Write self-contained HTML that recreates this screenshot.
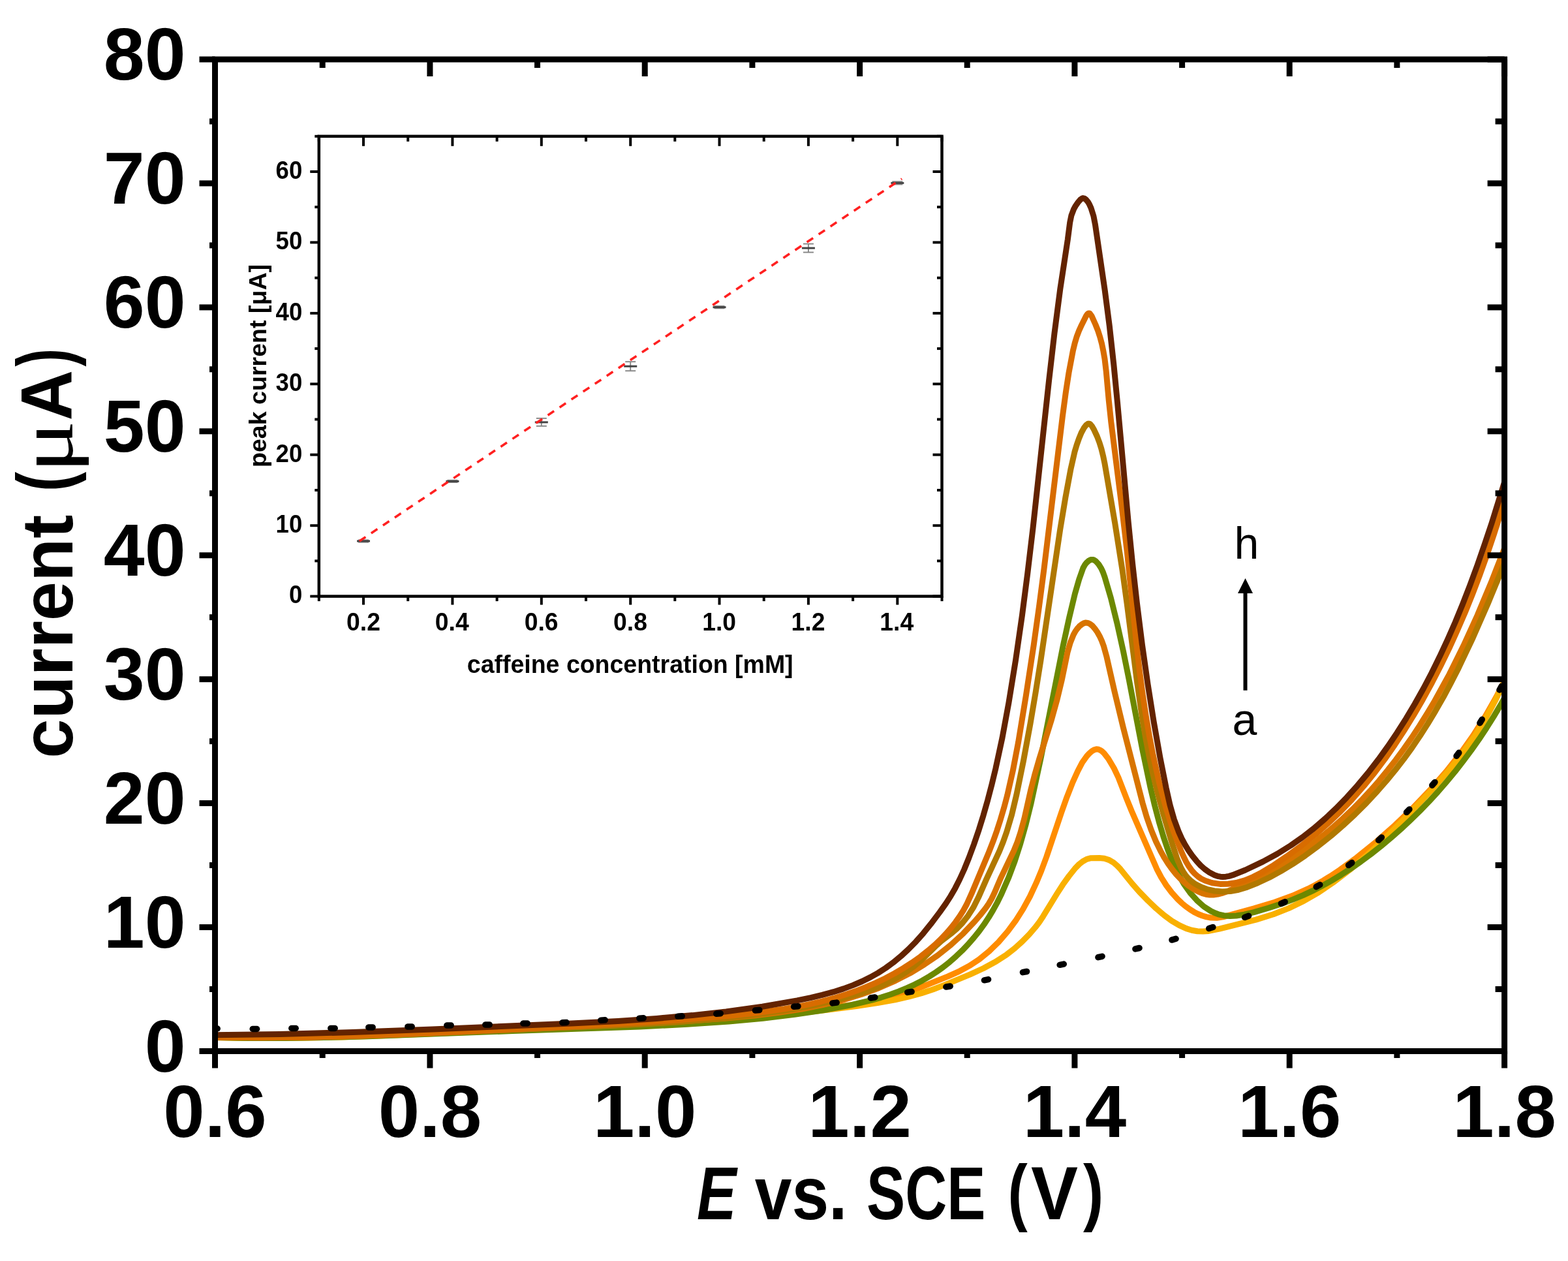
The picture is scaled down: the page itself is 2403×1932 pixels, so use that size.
<!DOCTYPE html><html><head><meta charset="utf-8"><title>DPV caffeine</title><style>
html,body{margin:0;padding:0;background:#fff;width:2403px;height:1932px;overflow:hidden}
svg{display:block}
text{font-family:"Liberation Sans",Arial,sans-serif;font-weight:bold;fill:#000}
</style></head><body>
<svg xmlns="http://www.w3.org/2000/svg" width="2403" height="1932" viewBox="0 0 2403 1932">
<rect width="2403" height="1932" fill="#fff"/>
<defs><clipPath id="pc"><rect x="329.5" y="91.0" width="1976.1" height="1519.5"/></clipPath></defs>
<g clip-path="url(#pc)" fill="none" stroke-linejoin="round" stroke-linecap="butt" stroke-width="9">
<path d="M329.0,1589.0 L374.0,1590.0 L420.9,1590.2 L470.9,1589.6 L525.9,1588.3 L602.9,1585.5 L787.9,1577.5 L960.7,1571.6 L1040.6,1567.6 L1087.4,1564.3 L1132.3,1560.3 L1182.0,1554.9 L1241.5,1547.6 L1311.6,1538.6 L1335.1,1535.1 L1358.6,1530.4 L1380.0,1524.4 L1398.4,1517.7 L1453.0,1495.9 L1470.8,1487.8 L1485.3,1479.9 L1500.8,1469.7 L1516.1,1457.2 L1530.4,1443.2 L1544.3,1427.1 L1556.4,1410.8 L1567.8,1392.9 L1578.4,1373.5 L1588.1,1352.7 L1595.8,1334.3 L1603.8,1312.8 L1626.7,1244.6 L1635.1,1221.1 L1643.8,1198.8 L1651.6,1181.6 L1658.5,1168.4 L1665.6,1158.4 L1669.3,1154.4 L1673.3,1150.9 L1676.7,1148.8 L1680.2,1147.8 L1682.8,1147.9 L1686.2,1149.3 L1688.8,1151.0 L1692.0,1154.0 L1698.6,1162.5 L1707.2,1177.0 L1713.9,1191.2 L1726.2,1222.9 L1734.3,1242.8 L1772.8,1331.3 L1779.7,1344.4 L1787.4,1356.5 L1795.7,1367.5 L1804.9,1377.7 L1811.0,1383.6 L1817.4,1388.9 L1824.1,1393.7 L1830.1,1397.4 L1836.3,1400.5 L1842.6,1403.0 L1849.0,1404.9 L1855.5,1406.0 L1864.9,1406.2 L1874.4,1404.8 L1921.8,1391.9 L1953.6,1382.2 L1981.0,1372.3 L2004.8,1361.7 L2016.3,1355.7 L2028.4,1348.9 L2041.1,1341.0 L2053.5,1332.7 L2079.3,1313.8 L2108.8,1289.9 L2138.1,1264.1 L2165.5,1237.7 L2191.8,1210.2 L2216.2,1182.2 L2237.9,1154.8 L2257.5,1127.2 L2276.1,1097.7 L2293.4,1067.3 L2309.9,1034.8" stroke="#ff8c00"/>
<path d="M329.0,1589.5 L374.0,1590.4 L421.0,1590.6 L471.0,1590.1 L525.0,1588.9 L604.0,1586.1 L786.9,1578.5 L944.7,1573.2 L1014.5,1570.0 L1061.4,1567.1 L1109.2,1563.5 L1157.0,1559.3 L1204.8,1554.5 L1258.6,1548.3 L1312.3,1541.5 L1345.0,1536.6 L1371.6,1531.8 L1393.1,1526.9 L1412.4,1521.6 L1429.6,1516.0 L1449.3,1508.4 L1486.9,1492.8 L1507.3,1483.5 L1526.2,1473.3 L1542.9,1462.4 L1555.0,1453.0 L1566.5,1442.7 L1577.3,1431.7 L1586.5,1420.9 L1592.6,1412.9 L1598.6,1403.9 L1619.7,1369.5 L1628.9,1355.2 L1638.4,1342.0 L1647.4,1330.7 L1653.9,1324.0 L1659.4,1319.7 L1665.4,1316.4 L1671.9,1314.7 L1684.7,1314.5 L1692.5,1315.3 L1699.8,1317.6 L1706.6,1321.6 L1712.1,1326.3 L1717.2,1331.7 L1735.0,1353.8 L1746.2,1366.5 L1759.4,1380.0 L1771.9,1391.9 L1783.9,1402.1 L1795.7,1410.8 L1807.2,1417.6 L1818.1,1422.6 L1826.5,1425.2 L1835.0,1426.7 L1843.6,1427.1 L1852.3,1426.4 L1868.8,1423.2 L1924.7,1409.1 L1951.6,1400.7 L1974.8,1391.6 L1998.0,1380.4 L2021.1,1367.0 L2045.0,1350.8 L2068.8,1332.5 L2094.0,1311.0 L2120.5,1286.2 L2158.1,1248.4 L2193.1,1211.5 L2218.6,1182.6 L2240.9,1154.7 L2260.0,1127.9 L2276.6,1101.2 L2292.1,1072.4 L2309.4,1036.1" stroke="#f9b000"/>
<path d="M328.9,1589.5 L381.0,1590.4 L437.1,1590.4 L497.1,1589.5 L564.2,1587.8 L786.0,1579.5 L980.6,1572.9 L1053.4,1569.3 L1117.1,1565.0 L1168.9,1560.2 L1217.7,1554.4 L1263.5,1547.5 L1304.2,1539.9 L1335.6,1532.4 L1350.0,1528.3 L1364.3,1523.7 L1377.4,1518.9 L1390.2,1513.6 L1401.9,1508.3 L1413.3,1502.4 L1424.5,1495.9 L1434.5,1489.5 L1445.1,1482.0 L1455.3,1473.9 L1465.1,1465.3 L1474.6,1456.3 L1483.6,1446.9 L1492.2,1437.0 L1500.4,1426.9 L1508.0,1416.4 L1515.2,1405.6 L1521.8,1394.6 L1528.0,1383.4 L1534.1,1371.1 L1546.0,1343.9 L1555.1,1319.6 L1563.7,1292.9 L1571.9,1263.8 L1580.2,1230.4 L1595.5,1159.5 L1629.0,990.4 L1638.5,946.8 L1647.3,910.0 L1653.7,887.7 L1659.9,870.3 L1662.5,865.6 L1665.2,862.1 L1668.3,859.3 L1671.7,857.5 L1675.2,857.4 L1676.8,858.1 L1679.3,859.7 L1683.7,864.5 L1687.7,870.9 L1690.3,876.5 L1693.0,884.1 L1702.5,916.5 L1712.0,955.1 L1721.5,998.0 L1730.0,1040.1 L1750.8,1148.4 L1763.2,1207.2 L1769.7,1234.4 L1776.3,1259.4 L1783.1,1282.2 L1790.4,1303.7 L1797.9,1323.0 L1805.6,1339.3 L1814.3,1354.3 L1824.0,1367.9 L1834.4,1379.6 L1845.0,1389.0 L1855.7,1395.9 L1861.8,1398.8 L1867.1,1400.8 L1875.4,1402.7 L1884.9,1403.5 L1894.7,1403.0 L1906.7,1401.1 L1921.7,1397.6 L1944.4,1391.0 L1963.5,1384.7 L1981.4,1378.1 L1997.0,1371.6 L2011.4,1364.9 L2025.6,1357.6 L2040.4,1349.4 L2055.7,1340.1 L2070.8,1330.3 L2085.6,1320.0 L2100.9,1308.6 L2116.6,1296.2 L2132.0,1283.4 L2147.0,1270.2 L2161.6,1256.5 L2175.9,1242.5 L2189.8,1228.2 L2203.4,1213.4 L2217.1,1197.6 L2229.9,1182.2 L2242.8,1165.6 L2254.7,1149.6 L2266.8,1132.4 L2277.9,1115.7 L2289.1,1097.9 L2299.8,1079.9 L2309.8,1061.9" stroke="#6c8800"/>
<path d="M328.8,1589.0 L390.2,1589.6 L455.4,1589.3 L525.4,1587.9 L604.2,1585.3 L953.1,1570.3 L1037.1,1565.6 L1110.5,1560.2 L1155.7,1556.0 L1193.7,1551.4 L1228.4,1546.0 L1260.7,1539.7 L1291.6,1532.1 L1319.9,1523.5 L1346.8,1513.7 L1372.1,1502.6 L1395.0,1490.8 L1416.3,1477.9 L1437.0,1463.7 L1456.8,1448.0 L1476.3,1430.2 L1493.9,1411.7 L1502.5,1401.6 L1510.1,1392.0 L1515.3,1384.6 L1519.7,1377.0 L1523.8,1368.4 L1534.0,1344.6 L1553.8,1303.3 L1559.1,1290.1 L1563.8,1276.0 L1569.8,1254.2 L1580.0,1209.1 L1585.5,1187.8 L1592.8,1162.6 L1611.0,1104.2 L1619.7,1073.1 L1627.4,1041.2 L1635.9,999.9 L1640.2,984.7 L1645.2,972.4 L1647.7,967.8 L1650.7,963.5 L1654.1,959.6 L1657.4,956.9 L1660.8,954.9 L1663.5,954.1 L1667.1,954.4 L1670.6,956.0 L1673.9,958.6 L1677.7,962.9 L1681.7,968.5 L1685.2,974.7 L1688.4,981.6 L1691.4,989.7 L1695.8,1005.6 L1708.4,1061.0 L1721.4,1114.9 L1751.0,1230.2 L1757.4,1251.9 L1764.2,1271.5 L1771.4,1289.0 L1778.9,1304.4 L1784.4,1314.2 L1789.9,1322.9 L1795.8,1331.2 L1802.2,1339.1 L1808.4,1345.8 L1815.1,1352.0 L1822.2,1357.6 L1828.9,1362.0 L1836.1,1365.9 L1842.6,1368.6 L1848.2,1370.2 L1853.9,1371.0 L1859.6,1371.0 L1866.3,1370.1 L1872.9,1368.4 L1880.5,1365.8 L1890.8,1361.4 L1922.3,1346.9 L1936.7,1339.7 L1951.7,1331.6 L1967.3,1322.6 L1983.3,1312.5 L1998.1,1302.4 L2013.4,1291.3 L2028.3,1279.6 L2043.5,1266.9 L2057.6,1254.3 L2072.1,1240.6 L2086.1,1226.5 L2100.3,1211.1 L2113.5,1196.1 L2126.8,1179.9 L2139.1,1164.2 L2151.6,1147.2 L2163.7,1129.9 L2175.8,1111.5 L2187.5,1092.7 L2198.8,1073.7 L2221.1,1033.1 L2242.6,989.8 L2264.3,942.3 L2286.2,889.9 L2309.5,830.4" stroke="#d87400"/>
<path d="M328.9,1589.0 L385.1,1589.8 L445.2,1589.5 L509.2,1588.3 L581.1,1586.1 L962.3,1570.3 L1037.3,1566.0 L1103.4,1560.6 L1155.5,1554.9 L1202.2,1548.3 L1245.5,1540.5 L1285.0,1531.5 L1319.0,1521.9 L1333.0,1517.2 L1345.8,1512.3 L1357.6,1507.1 L1369.3,1501.1 L1380.0,1494.9 L1390.5,1488.0 L1401.5,1479.8 L1412.6,1470.5 L1435.5,1448.1 L1442.7,1441.6 L1459.7,1428.6 L1465.9,1423.3 L1475.0,1414.0 L1483.5,1403.2 L1491.9,1390.0 L1499.4,1375.1 L1511.8,1346.9 L1531.6,1304.1 L1537.3,1290.0 L1542.7,1274.8 L1550.6,1248.1 L1557.9,1217.4 L1568.4,1166.0 L1578.9,1109.1 L1587.0,1061.6 L1594.9,1012.0 L1624.6,811.9 L1632.9,762.0 L1641.0,718.4 L1646.9,692.4 L1650.1,681.7 L1653.5,671.9 L1657.2,663.0 L1661.1,655.8 L1664.4,651.4 L1667.2,649.3 L1668.6,649.1 L1670.0,649.4 L1671.3,650.4 L1673.2,652.6 L1676.7,658.6 L1681.3,668.5 L1684.9,678.0 L1687.9,687.6 L1690.5,698.2 L1693.1,710.7 L1708.7,801.6 L1720.1,873.8 L1727.2,925.4 L1742.4,1043.7 L1750.6,1100.0 L1755.7,1130.5 L1761.1,1158.9 L1767.0,1186.1 L1773.1,1211.2 L1783.3,1248.8 L1796.7,1293.4 L1804.0,1315.9 L1810.0,1329.8 L1813.4,1335.8 L1817.3,1341.5 L1821.2,1345.9 L1825.6,1350.0 L1830.5,1353.6 L1835.9,1356.7 L1842.6,1359.8 L1849.4,1362.3 L1861.1,1365.0 L1872.8,1366.1 L1885.5,1365.5 L1898.1,1363.2 L1911.5,1359.2 L1927.4,1352.8 L1945.6,1344.2 L1963.2,1334.6 L1981.2,1323.7 L2000.2,1310.9 L2020.3,1296.1 L2039.9,1280.5 L2058.0,1264.9 L2076.4,1247.9 L2094.1,1230.2 L2111.1,1211.9 L2124.9,1196.1 L2138.2,1179.9 L2151.1,1163.3 L2164.0,1145.5 L2176.3,1127.3 L2188.1,1108.8 L2200.0,1089.1 L2211.9,1068.3 L2223.2,1047.1 L2234.2,1025.7 L2257.0,977.7 L2280.7,923.6 L2311.9,848.1" stroke="#b07800"/>
<path d="M328.9,1589.0 L401.2,1589.7 L479.3,1588.9 L563.2,1586.6 L662.0,1582.7 L888.3,1571.9 L984.1,1566.6 L1034.1,1563.3 L1081.2,1559.6 L1124.4,1555.7 L1158.4,1552.0 L1202.2,1545.8 L1221.9,1542.4 L1241.4,1538.4 L1259.8,1534.1 L1278.1,1529.2 L1295.1,1524.0 L1311.0,1518.6 L1326.7,1512.5 L1342.2,1505.9 L1356.6,1499.0 L1370.7,1491.5 L1384.5,1483.4 L1398.1,1474.6 L1410.5,1465.8 L1422.4,1456.4 L1432.3,1447.9 L1441.1,1439.6 L1449.4,1430.9 L1457.2,1422.0 L1464.5,1412.7 L1470.7,1403.9 L1476.4,1394.8 L1481.5,1385.5 L1488.7,1369.7 L1514.4,1308.3 L1521.9,1289.2 L1527.7,1272.9 L1533.3,1255.6 L1538.7,1237.3 L1543.6,1218.9 L1552.2,1181.1 L1560.6,1137.2 L1572.4,1065.6 L1584.3,987.7 L1592.5,929.2 L1600.0,871.6 L1628.5,637.0 L1633.3,601.4 L1638.0,571.0 L1644.4,537.1 L1647.2,525.6 L1650.0,516.2 L1653.5,506.9 L1657.7,497.7 L1664.4,484.3 L1666.1,481.7 L1667.9,480.1 L1669.1,479.9 L1670.2,480.4 L1673.0,484.2 L1678.8,497.0 L1682.6,506.5 L1685.7,516.1 L1688.6,526.8 L1691.0,538.4 L1693.0,550.0 L1695.2,568.6 L1699.2,612.9 L1702.9,647.6 L1719.0,775.0 L1727.4,846.5 L1741.3,982.5 L1746.2,1026.3 L1750.8,1061.1 L1755.9,1094.9 L1761.4,1127.5 L1767.3,1157.8 L1776.9,1200.4 L1786.9,1237.7 L1797.5,1271.0 L1809.6,1302.7 L1813.8,1312.3 L1818.0,1320.7 L1822.2,1327.7 L1826.3,1333.4 L1830.9,1338.5 L1836.0,1343.0 L1840.8,1346.3 L1847.0,1349.3 L1857.7,1352.7 L1869.8,1354.4 L1881.9,1354.3 L1894.4,1352.5 L1907.5,1348.8 L1920.3,1343.6 L1933.7,1336.7 L1949.5,1327.2 L1972.3,1311.8 L1995.1,1295.1 L2016.1,1278.3 L2035.5,1261.3 L2054.2,1243.5 L2072.0,1224.8 L2089.8,1204.6 L2107.4,1182.8 L2122.4,1162.8 L2137.4,1141.4 L2152.2,1118.7 L2166.5,1095.7 L2180.6,1071.4 L2194.5,1046.0 L2207.8,1020.2 L2220.9,993.3 L2233.3,966.0 L2245.2,938.5 L2256.8,909.8 L2267.8,880.8 L2279.0,849.7 L2289.5,818.5 L2299.9,786.0 L2310.1,752.0" stroke="#d86c00"/>
<path d="M329.1,1585.8 L428.9,1584.5 L540.9,1581.5 L662.9,1577.0 L875.8,1568.0 L946.6,1564.4 L1006.4,1560.4 L1061.1,1555.6 L1112.7,1549.9 L1168.3,1542.2 L1221.7,1532.9 L1242.4,1528.6 L1260.0,1524.4 L1277.4,1519.7 L1292.6,1514.9 L1307.5,1509.4 L1321.2,1503.5 L1333.6,1497.4 L1345.7,1490.6 L1357.5,1483.0 L1368.9,1474.7 L1380.6,1465.1 L1391.7,1454.9 L1403.6,1442.8 L1414.8,1430.2 L1426.5,1415.7 L1440.3,1397.4 L1449.7,1384.2 L1456.8,1373.1 L1463.8,1360.9 L1470.6,1347.5 L1477.7,1332.0 L1484.8,1314.5 L1492.5,1293.8 L1500.2,1271.2 L1507.0,1249.3 L1513.6,1226.2 L1519.9,1202.1 L1525.8,1177.8 L1536.1,1130.0 L1545.9,1076.8 L1556.5,1011.6 L1566.5,942.3 L1574.7,878.8 L1583.0,809.3 L1607.6,582.8 L1616.0,510.3 L1624.8,442.6 L1636.3,367.1 L1639.7,340.8 L1641.9,330.1 L1645.6,320.4 L1648.3,315.5 L1652.2,309.9 L1655.8,305.7 L1658.1,304.1 L1659.7,303.6 L1662.1,304.1 L1664.4,305.8 L1667.3,309.3 L1669.6,313.3 L1672.0,318.6 L1675.9,331.0 L1678.5,344.4 L1693.3,445.5 L1700.3,499.4 L1706.9,559.2 L1712.5,616.9 L1729.1,798.9 L1735.6,863.6 L1742.3,923.2 L1750.4,987.7 L1759.0,1048.1 L1768.1,1105.5 L1777.9,1160.7 L1787.1,1206.9 L1793.0,1233.2 L1799.3,1255.2 L1806.5,1274.7 L1811.0,1284.7 L1816.2,1294.3 L1821.4,1302.9 L1827.2,1311.2 L1833.7,1319.2 L1840.1,1326.1 L1846.2,1331.5 L1852.7,1336.2 L1861.3,1340.7 L1865.8,1342.3 L1870.3,1343.2 L1874.0,1343.5 L1878.7,1343.2 L1883.5,1342.3 L1889.2,1340.7 L1908.5,1333.0 L1935.5,1320.1 L1957.4,1308.2 L1978.3,1295.2 L1996.1,1282.7 L2013.3,1269.4 L2030.6,1254.5 L2047.3,1238.8 L2064.1,1221.6 L2080.2,1203.7 L2096.3,1184.5 L2112.3,1163.8 L2127.0,1143.5 L2141.0,1122.7 L2154.9,1100.8 L2168.2,1078.5 L2181.4,1055.0 L2194.0,1031.1 L2206.3,1006.1 L2218.5,979.8 L2230.2,953.2 L2241.6,925.5 L2252.8,896.6 L2263.9,866.5 L2275.1,834.3 L2286.2,801.1 L2309.9,725.0" stroke="#632300"/>
<g stroke="#000" stroke-width="9.5" stroke-linecap="round">
<line x1="326.8" y1="1576.0" x2="333.2" y2="1576.0"/>
<line x1="387.2" y1="1576.5" x2="393.6" y2="1576.5"/>
<line x1="446.8" y1="1575.5" x2="453.2" y2="1575.5"/>
<line x1="506.8" y1="1575.5" x2="513.2" y2="1575.5"/>
<line x1="564.8" y1="1574.1" x2="571.2" y2="1573.9"/>
<line x1="624.8" y1="1573.1" x2="631.2" y2="1572.9"/>
<line x1="684.8" y1="1571.1" x2="691.2" y2="1570.9"/>
<line x1="743.8" y1="1570.1" x2="750.2" y2="1569.9"/>
<line x1="801.8" y1="1568.1" x2="808.2" y2="1567.9"/>
<line x1="861.8" y1="1566.8" x2="868.2" y2="1566.6"/>
<line x1="920.8" y1="1563.2" x2="927.2" y2="1562.8"/>
<line x1="979.8" y1="1560.2" x2="986.2" y2="1559.8"/>
<line x1="1038.8" y1="1557.2" x2="1045.2" y2="1556.8"/>
<line x1="1097.8" y1="1553.3" x2="1104.2" y2="1552.7"/>
<line x1="1157.4" y1="1548.0" x2="1163.8" y2="1547.4"/>
<line x1="1216.6" y1="1542.3" x2="1223.0" y2="1541.7"/>
<line x1="1275.8" y1="1536.9" x2="1282.2" y2="1536.1"/>
<line x1="1334.4" y1="1529.0" x2="1340.8" y2="1528.0"/>
<line x1="1390.7" y1="1520.4" x2="1397.1" y2="1519.4"/>
<line x1="1449.8" y1="1512.0" x2="1456.2" y2="1511.0"/>
<line x1="1508.4" y1="1501.8" x2="1514.6" y2="1500.6"/>
<line x1="1567.4" y1="1489.7" x2="1573.6" y2="1488.5"/>
<line x1="1624.1" y1="1478.3" x2="1630.3" y2="1477.1"/>
<line x1="1682.9" y1="1466.7" x2="1689.1" y2="1465.3"/>
<line x1="1739.9" y1="1453.9" x2="1746.1" y2="1452.5"/>
<line x1="1795.9" y1="1440.1" x2="1802.1" y2="1438.3"/>
<line x1="1852.7" y1="1422.6" x2="1858.9" y2="1420.6"/>
<line x1="1907.6" y1="1405.5" x2="1913.6" y2="1403.3"/>
<line x1="1963.4" y1="1384.4" x2="1969.2" y2="1381.8"/>
<line x1="2017.2" y1="1358.7" x2="2022.8" y2="1355.5"/>
<line x1="2066.6" y1="1325.6" x2="2071.8" y2="1321.8"/>
<line x1="2112.6" y1="1287.4" x2="2117.4" y2="1283.0"/>
<line x1="2155.5" y1="1244.6" x2="2159.9" y2="1240.0"/>
<line x1="2194.8" y1="1203.2" x2="2199.0" y2="1198.4"/>
<line x1="2232.0" y1="1158.3" x2="2235.8" y2="1153.3"/>
<line x1="2267.9" y1="1107.7" x2="2271.3" y2="1102.3"/>
<line x1="2298.0" y1="1057.0" x2="2301.2" y2="1051.4"/>
</g>
</g>
<g stroke="#000" fill="none" stroke-width="9" stroke-linecap="square">
<rect x="329.5" y="91.0" width="1976.1" height="1519.5"/>
</g>
<g stroke="#000" stroke-width="9">
<line x1="329.5" y1="1610.5" x2="329.5" y2="1636.5"/>
<line x1="329.5" y1="91.0" x2="329.5" y2="117.0"/>
<line x1="494.2" y1="1610.5" x2="494.2" y2="1621.0"/>
<line x1="494.2" y1="91.0" x2="494.2" y2="104.0"/>
<line x1="658.9" y1="1610.5" x2="658.9" y2="1636.5"/>
<line x1="658.9" y1="91.0" x2="658.9" y2="117.0"/>
<line x1="823.5" y1="1610.5" x2="823.5" y2="1621.0"/>
<line x1="823.5" y1="91.0" x2="823.5" y2="104.0"/>
<line x1="988.2" y1="1610.5" x2="988.2" y2="1636.5"/>
<line x1="988.2" y1="91.0" x2="988.2" y2="117.0"/>
<line x1="1152.9" y1="1610.5" x2="1152.9" y2="1621.0"/>
<line x1="1152.9" y1="91.0" x2="1152.9" y2="104.0"/>
<line x1="1317.6" y1="1610.5" x2="1317.6" y2="1636.5"/>
<line x1="1317.6" y1="91.0" x2="1317.6" y2="117.0"/>
<line x1="1482.2" y1="1610.5" x2="1482.2" y2="1621.0"/>
<line x1="1482.2" y1="91.0" x2="1482.2" y2="104.0"/>
<line x1="1646.9" y1="1610.5" x2="1646.9" y2="1636.5"/>
<line x1="1646.9" y1="91.0" x2="1646.9" y2="117.0"/>
<line x1="1811.6" y1="1610.5" x2="1811.6" y2="1621.0"/>
<line x1="1811.6" y1="91.0" x2="1811.6" y2="104.0"/>
<line x1="1976.2" y1="1610.5" x2="1976.2" y2="1636.5"/>
<line x1="1976.2" y1="91.0" x2="1976.2" y2="117.0"/>
<line x1="2140.9" y1="1610.5" x2="2140.9" y2="1621.0"/>
<line x1="2140.9" y1="91.0" x2="2140.9" y2="104.0"/>
<line x1="2305.6" y1="1610.5" x2="2305.6" y2="1636.5"/>
<line x1="2305.6" y1="91.0" x2="2305.6" y2="117.0"/>
<line x1="305.5" y1="1610.5" x2="329.5" y2="1610.5"/>
<line x1="2279.6" y1="1610.5" x2="2305.6" y2="1610.5"/>
<line x1="321.0" y1="1515.5" x2="329.5" y2="1515.5"/>
<line x1="2291.6" y1="1515.5" x2="2305.6" y2="1515.5"/>
<line x1="305.5" y1="1420.6" x2="329.5" y2="1420.6"/>
<line x1="2279.6" y1="1420.6" x2="2305.6" y2="1420.6"/>
<line x1="321.0" y1="1325.6" x2="329.5" y2="1325.6"/>
<line x1="2291.6" y1="1325.6" x2="2305.6" y2="1325.6"/>
<line x1="305.5" y1="1230.6" x2="329.5" y2="1230.6"/>
<line x1="2279.6" y1="1230.6" x2="2305.6" y2="1230.6"/>
<line x1="321.0" y1="1135.7" x2="329.5" y2="1135.7"/>
<line x1="2291.6" y1="1135.7" x2="2305.6" y2="1135.7"/>
<line x1="305.5" y1="1040.7" x2="329.5" y2="1040.7"/>
<line x1="2279.6" y1="1040.7" x2="2305.6" y2="1040.7"/>
<line x1="321.0" y1="945.7" x2="329.5" y2="945.7"/>
<line x1="2291.6" y1="945.7" x2="2305.6" y2="945.7"/>
<line x1="305.5" y1="850.8" x2="329.5" y2="850.8"/>
<line x1="2279.6" y1="850.8" x2="2305.6" y2="850.8"/>
<line x1="321.0" y1="755.8" x2="329.5" y2="755.8"/>
<line x1="2291.6" y1="755.8" x2="2305.6" y2="755.8"/>
<line x1="305.5" y1="660.8" x2="329.5" y2="660.8"/>
<line x1="2279.6" y1="660.8" x2="2305.6" y2="660.8"/>
<line x1="321.0" y1="565.8" x2="329.5" y2="565.8"/>
<line x1="2291.6" y1="565.8" x2="2305.6" y2="565.8"/>
<line x1="305.5" y1="470.9" x2="329.5" y2="470.9"/>
<line x1="2279.6" y1="470.9" x2="2305.6" y2="470.9"/>
<line x1="321.0" y1="375.9" x2="329.5" y2="375.9"/>
<line x1="2291.6" y1="375.9" x2="2305.6" y2="375.9"/>
<line x1="305.5" y1="280.9" x2="329.5" y2="280.9"/>
<line x1="2279.6" y1="280.9" x2="2305.6" y2="280.9"/>
<line x1="321.0" y1="186.0" x2="329.5" y2="186.0"/>
<line x1="2291.6" y1="186.0" x2="2305.6" y2="186.0"/>
<line x1="305.5" y1="91.0" x2="329.5" y2="91.0"/>
<line x1="2279.6" y1="91.0" x2="2305.6" y2="91.0"/>
</g>
<text x="284.5" y="1641.5" font-size="113" text-anchor="end">0</text>
<text x="284.5" y="1451.6" font-size="113" text-anchor="end">10</text>
<text x="284.5" y="1261.6" font-size="113" text-anchor="end">20</text>
<text x="284.5" y="1071.7" font-size="113" text-anchor="end">30</text>
<text x="284.5" y="881.8" font-size="113" text-anchor="end">40</text>
<text x="284.5" y="691.8" font-size="113" text-anchor="end">50</text>
<text x="284.5" y="501.9" font-size="113" text-anchor="end">60</text>
<text x="284.5" y="311.9" font-size="113" text-anchor="end">70</text>
<text x="284.5" y="122.0" font-size="113" text-anchor="end">80</text>
<text x="329.5" y="1741.5" font-size="114" text-anchor="middle">0.6</text>
<text x="658.9" y="1741.5" font-size="114" text-anchor="middle">0.8</text>
<text x="988.2" y="1741.5" font-size="114" text-anchor="middle">1.0</text>
<text x="1317.6" y="1741.5" font-size="114" text-anchor="middle">1.2</text>
<text x="1646.9" y="1741.5" font-size="114" text-anchor="middle">1.4</text>
<text x="1976.2" y="1741.5" font-size="114" text-anchor="middle">1.6</text>
<text x="2305.6" y="1741.5" font-size="114" text-anchor="middle">1.8</text>
<text x="1067.90" y="1868.00" font-size="115" textLength="60.54" lengthAdjust="spacingAndGlyphs" style="font-family:'Liberation Sans',Arial,sans-serif;font-weight:bold;font-style:italic">E</text><text x="1156.70" y="1868.00" font-size="115" textLength="141.72" lengthAdjust="spacingAndGlyphs" style="font-family:'Liberation Sans',Arial,sans-serif;font-weight:bold">vs.</text><text x="1328.05" y="1868.00" font-size="115" textLength="182.21" lengthAdjust="spacingAndGlyphs" style="font-family:'Liberation Sans',Arial,sans-serif;font-weight:bold">SCE</text><text x="1544.58" y="1864.20" font-size="114" textLength="30.21" lengthAdjust="spacingAndGlyphs" style="font-family:'Liberation Sans',Arial,sans-serif;font-weight:bold">(</text><text x="1580.06" y="1868.00" font-size="115" textLength="71.98" lengthAdjust="spacingAndGlyphs" style="font-family:'Liberation Sans',Arial,sans-serif;font-weight:bold">V</text><text x="1660.01" y="1864.20" font-size="114" textLength="31.27" lengthAdjust="spacingAndGlyphs" style="font-family:'Liberation Sans',Arial,sans-serif;font-weight:bold">)</text>
<text transform="translate(111.00,0) rotate(-90)" x="-1161.83" y="0" font-size="111" textLength="373.15" lengthAdjust="spacingAndGlyphs" style="font-family:'Liberation Sans',Arial,sans-serif;font-weight:bold">current</text><text transform="translate(108.00,0) rotate(-90)" x="-753.02" y="0" font-size="117" textLength="30.21" lengthAdjust="spacingAndGlyphs" style="font-family:'Liberation Sans',Arial,sans-serif;font-weight:bold">(</text><text transform="translate(111.00,0) rotate(-90)" x="-724.70" y="0" font-size="118" textLength="80.67" lengthAdjust="spacingAndGlyphs" style="font-family:'Liberation Serif','Times New Roman',serif;font-weight:normal">μ</text><text transform="translate(110.00,0) rotate(-90)" x="-644.57" y="0" font-size="112" textLength="77.50" lengthAdjust="spacingAndGlyphs" style="font-family:'Liberation Sans',Arial,sans-serif;font-weight:bold">A</text><text transform="translate(108.00,0) rotate(-90)" x="-561.58" y="0" font-size="117" textLength="27.73" lengthAdjust="spacingAndGlyphs" style="font-family:'Liberation Sans',Arial,sans-serif;font-weight:bold">)</text>
<line x1="1908.5" y1="1057.7" x2="1908.5" y2="905" stroke="#000" stroke-width="6"/><polygon points="1908.5,886 1897,909 1920,909" fill="#000"/><text x="1910.5" y="855.5" font-size="68" font-weight="normal" text-anchor="middle" style="font-weight:normal">h</text><text x="1907.5" y="1125.5" font-size="68" text-anchor="middle" style="font-weight:normal">a</text>
<g><rect x="488.8" y="208.8" width="954.7" height="704.8" fill="none" stroke="#000" stroke-width="4.5"/><g stroke="#000" stroke-width="4"><line x1="488.8" y1="913.6" x2="488.8" y2="921.1"/><line x1="488.8" y1="208.8" x2="488.8" y2="216.8"/><line x1="557.0" y1="913.6" x2="557.0" y2="926.6"/><line x1="557.0" y1="208.8" x2="557.0" y2="223.8"/><line x1="625.2" y1="913.6" x2="625.2" y2="921.1"/><line x1="625.2" y1="208.8" x2="625.2" y2="216.8"/><line x1="693.4" y1="913.6" x2="693.4" y2="926.6"/><line x1="693.4" y1="208.8" x2="693.4" y2="223.8"/><line x1="761.6" y1="913.6" x2="761.6" y2="921.1"/><line x1="761.6" y1="208.8" x2="761.6" y2="216.8"/><line x1="829.8" y1="913.6" x2="829.8" y2="926.6"/><line x1="829.8" y1="208.8" x2="829.8" y2="223.8"/><line x1="898.0" y1="913.6" x2="898.0" y2="921.1"/><line x1="898.0" y1="208.8" x2="898.0" y2="216.8"/><line x1="966.2" y1="913.6" x2="966.2" y2="926.6"/><line x1="966.2" y1="208.8" x2="966.2" y2="223.8"/><line x1="1034.3" y1="913.6" x2="1034.3" y2="921.1"/><line x1="1034.3" y1="208.8" x2="1034.3" y2="216.8"/><line x1="1102.5" y1="913.6" x2="1102.5" y2="926.6"/><line x1="1102.5" y1="208.8" x2="1102.5" y2="223.8"/><line x1="1170.7" y1="913.6" x2="1170.7" y2="921.1"/><line x1="1170.7" y1="208.8" x2="1170.7" y2="216.8"/><line x1="1238.9" y1="913.6" x2="1238.9" y2="926.6"/><line x1="1238.9" y1="208.8" x2="1238.9" y2="223.8"/><line x1="1307.1" y1="913.6" x2="1307.1" y2="921.1"/><line x1="1307.1" y1="208.8" x2="1307.1" y2="216.8"/><line x1="1375.3" y1="913.6" x2="1375.3" y2="926.6"/><line x1="1375.3" y1="208.8" x2="1375.3" y2="223.8"/><line x1="1443.5" y1="913.6" x2="1443.5" y2="921.1"/><line x1="1443.5" y1="208.8" x2="1443.5" y2="216.8"/><line x1="475.3" y1="913.6" x2="488.8" y2="913.6"/><line x1="1429.5" y1="913.6" x2="1443.5" y2="913.6"/><line x1="482.3" y1="859.4" x2="488.8" y2="859.4"/><line x1="1436.0" y1="859.4" x2="1443.5" y2="859.4"/><line x1="475.3" y1="805.2" x2="488.8" y2="805.2"/><line x1="1429.5" y1="805.2" x2="1443.5" y2="805.2"/><line x1="482.3" y1="751.0" x2="488.8" y2="751.0"/><line x1="1436.0" y1="751.0" x2="1443.5" y2="751.0"/><line x1="475.3" y1="696.7" x2="488.8" y2="696.7"/><line x1="1429.5" y1="696.7" x2="1443.5" y2="696.7"/><line x1="482.3" y1="642.5" x2="488.8" y2="642.5"/><line x1="1436.0" y1="642.5" x2="1443.5" y2="642.5"/><line x1="475.3" y1="588.3" x2="488.8" y2="588.3"/><line x1="1429.5" y1="588.3" x2="1443.5" y2="588.3"/><line x1="482.3" y1="534.1" x2="488.8" y2="534.1"/><line x1="1436.0" y1="534.1" x2="1443.5" y2="534.1"/><line x1="475.3" y1="479.9" x2="488.8" y2="479.9"/><line x1="1429.5" y1="479.9" x2="1443.5" y2="479.9"/><line x1="482.3" y1="425.7" x2="488.8" y2="425.7"/><line x1="1436.0" y1="425.7" x2="1443.5" y2="425.7"/><line x1="475.3" y1="371.4" x2="488.8" y2="371.4"/><line x1="1429.5" y1="371.4" x2="1443.5" y2="371.4"/><line x1="482.3" y1="317.2" x2="488.8" y2="317.2"/><line x1="1436.0" y1="317.2" x2="1443.5" y2="317.2"/><line x1="475.3" y1="263.0" x2="488.8" y2="263.0"/><line x1="1429.5" y1="263.0" x2="1443.5" y2="263.0"/><line x1="482.3" y1="208.8" x2="488.8" y2="208.8"/><line x1="1436.0" y1="208.8" x2="1443.5" y2="208.8"/></g><text x="442.96" y="924.40" font-size="38.5" textLength="20.34" lengthAdjust="spacingAndGlyphs" style="font-family:'Liberation Sans',Arial,sans-serif;font-weight:bold">0</text><text x="422.62" y="815.97" font-size="38.5" textLength="40.68" lengthAdjust="spacingAndGlyphs" style="font-family:'Liberation Sans',Arial,sans-serif;font-weight:bold">10</text><text x="422.62" y="707.54" font-size="38.5" textLength="40.68" lengthAdjust="spacingAndGlyphs" style="font-family:'Liberation Sans',Arial,sans-serif;font-weight:bold">20</text><text x="422.62" y="599.11" font-size="38.5" textLength="40.68" lengthAdjust="spacingAndGlyphs" style="font-family:'Liberation Sans',Arial,sans-serif;font-weight:bold">30</text><text x="422.62" y="490.68" font-size="38.5" textLength="40.68" lengthAdjust="spacingAndGlyphs" style="font-family:'Liberation Sans',Arial,sans-serif;font-weight:bold">40</text><text x="422.62" y="382.25" font-size="38.5" textLength="40.68" lengthAdjust="spacingAndGlyphs" style="font-family:'Liberation Sans',Arial,sans-serif;font-weight:bold">50</text><text x="422.62" y="273.82" font-size="38.5" textLength="40.68" lengthAdjust="spacingAndGlyphs" style="font-family:'Liberation Sans',Arial,sans-serif;font-weight:bold">60</text><text x="531.10" y="966.20" font-size="38.5" textLength="51.81" lengthAdjust="spacingAndGlyphs" style="font-family:'Liberation Sans',Arial,sans-serif;font-weight:bold">0.2</text><text x="666.84" y="966.20" font-size="38.5" textLength="51.81" lengthAdjust="spacingAndGlyphs" style="font-family:'Liberation Sans',Arial,sans-serif;font-weight:bold">0.4</text><text x="803.80" y="966.20" font-size="38.5" textLength="51.81" lengthAdjust="spacingAndGlyphs" style="font-family:'Liberation Sans',Arial,sans-serif;font-weight:bold">0.6</text><text x="940.08" y="966.20" font-size="38.5" textLength="51.81" lengthAdjust="spacingAndGlyphs" style="font-family:'Liberation Sans',Arial,sans-serif;font-weight:bold">0.8</text><text x="1076.22" y="966.20" font-size="38.5" textLength="51.81" lengthAdjust="spacingAndGlyphs" style="font-family:'Liberation Sans',Arial,sans-serif;font-weight:bold">1.0</text><text x="1212.59" y="966.20" font-size="38.5" textLength="51.81" lengthAdjust="spacingAndGlyphs" style="font-family:'Liberation Sans',Arial,sans-serif;font-weight:bold">1.2</text><text x="1348.33" y="966.20" font-size="38.5" textLength="51.81" lengthAdjust="spacingAndGlyphs" style="font-family:'Liberation Sans',Arial,sans-serif;font-weight:bold">1.4</text><text x="715.84" y="1030.50" font-size="38.5" textLength="499.77" lengthAdjust="spacingAndGlyphs" style="font-family:'Liberation Sans',Arial,sans-serif;font-weight:bold">caffeine concentration [mM]</text><text transform="translate(407.50,0) rotate(-90)" x="-715.98" y="0" font-size="37" textLength="310.98" lengthAdjust="spacingAndGlyphs" style="font-family:'Liberation Sans',Arial,sans-serif;font-weight:bold">peak current [μA]</text><g stroke="#8a8a8a" stroke-width="2"><line x1="557.0" y1="827.4" x2="557.0" y2="830.7"/><line x1="549.0" y1="827.4" x2="565.0" y2="827.4"/><line x1="549.0" y1="830.7" x2="565.0" y2="830.7"/><line x1="693.4" y1="735.8" x2="693.4" y2="739.0"/><line x1="685.4" y1="735.8" x2="701.4" y2="735.8"/><line x1="685.4" y1="739.0" x2="701.4" y2="739.0"/><line x1="829.8" y1="640.9" x2="829.8" y2="652.8"/><line x1="821.8" y1="640.9" x2="837.8" y2="640.9"/><line x1="821.8" y1="652.8" x2="837.8" y2="652.8"/><line x1="966.2" y1="554.2" x2="966.2" y2="568.2"/><line x1="958.2" y1="554.2" x2="974.2" y2="554.2"/><line x1="958.2" y1="568.2" x2="974.2" y2="568.2"/><line x1="1102.5" y1="469.0" x2="1102.5" y2="472.3"/><line x1="1094.5" y1="469.0" x2="1110.5" y2="469.0"/><line x1="1094.5" y1="472.3" x2="1110.5" y2="472.3"/><line x1="1238.9" y1="373.6" x2="1238.9" y2="386.6"/><line x1="1230.9" y1="373.6" x2="1246.9" y2="373.6"/><line x1="1230.9" y1="386.6" x2="1246.9" y2="386.6"/><line x1="1375.3" y1="278.2" x2="1375.3" y2="282.5"/><line x1="1367.3" y1="278.2" x2="1383.3" y2="278.2"/><line x1="1367.3" y1="282.5" x2="1383.3" y2="282.5"/></g><g stroke="#444" stroke-width="3"><line x1="547.0" y1="829.0" x2="567.0" y2="829.0"/><line x1="683.4" y1="737.4" x2="703.4" y2="737.4"/><line x1="819.8" y1="646.9" x2="839.8" y2="646.9"/><line x1="956.2" y1="561.2" x2="976.2" y2="561.2"/><line x1="1092.5" y1="470.7" x2="1112.5" y2="470.7"/><line x1="1228.9" y1="380.1" x2="1248.9" y2="380.1"/><line x1="1365.3" y1="280.4" x2="1385.3" y2="280.4"/></g><line x1="546.8" y1="831.7" x2="1382.1" y2="273.9" stroke="#ff2020" stroke-width="3.6" stroke-dasharray="11.5 10.2" stroke-dashoffset="-4.8"/></g>
</svg></body></html>
